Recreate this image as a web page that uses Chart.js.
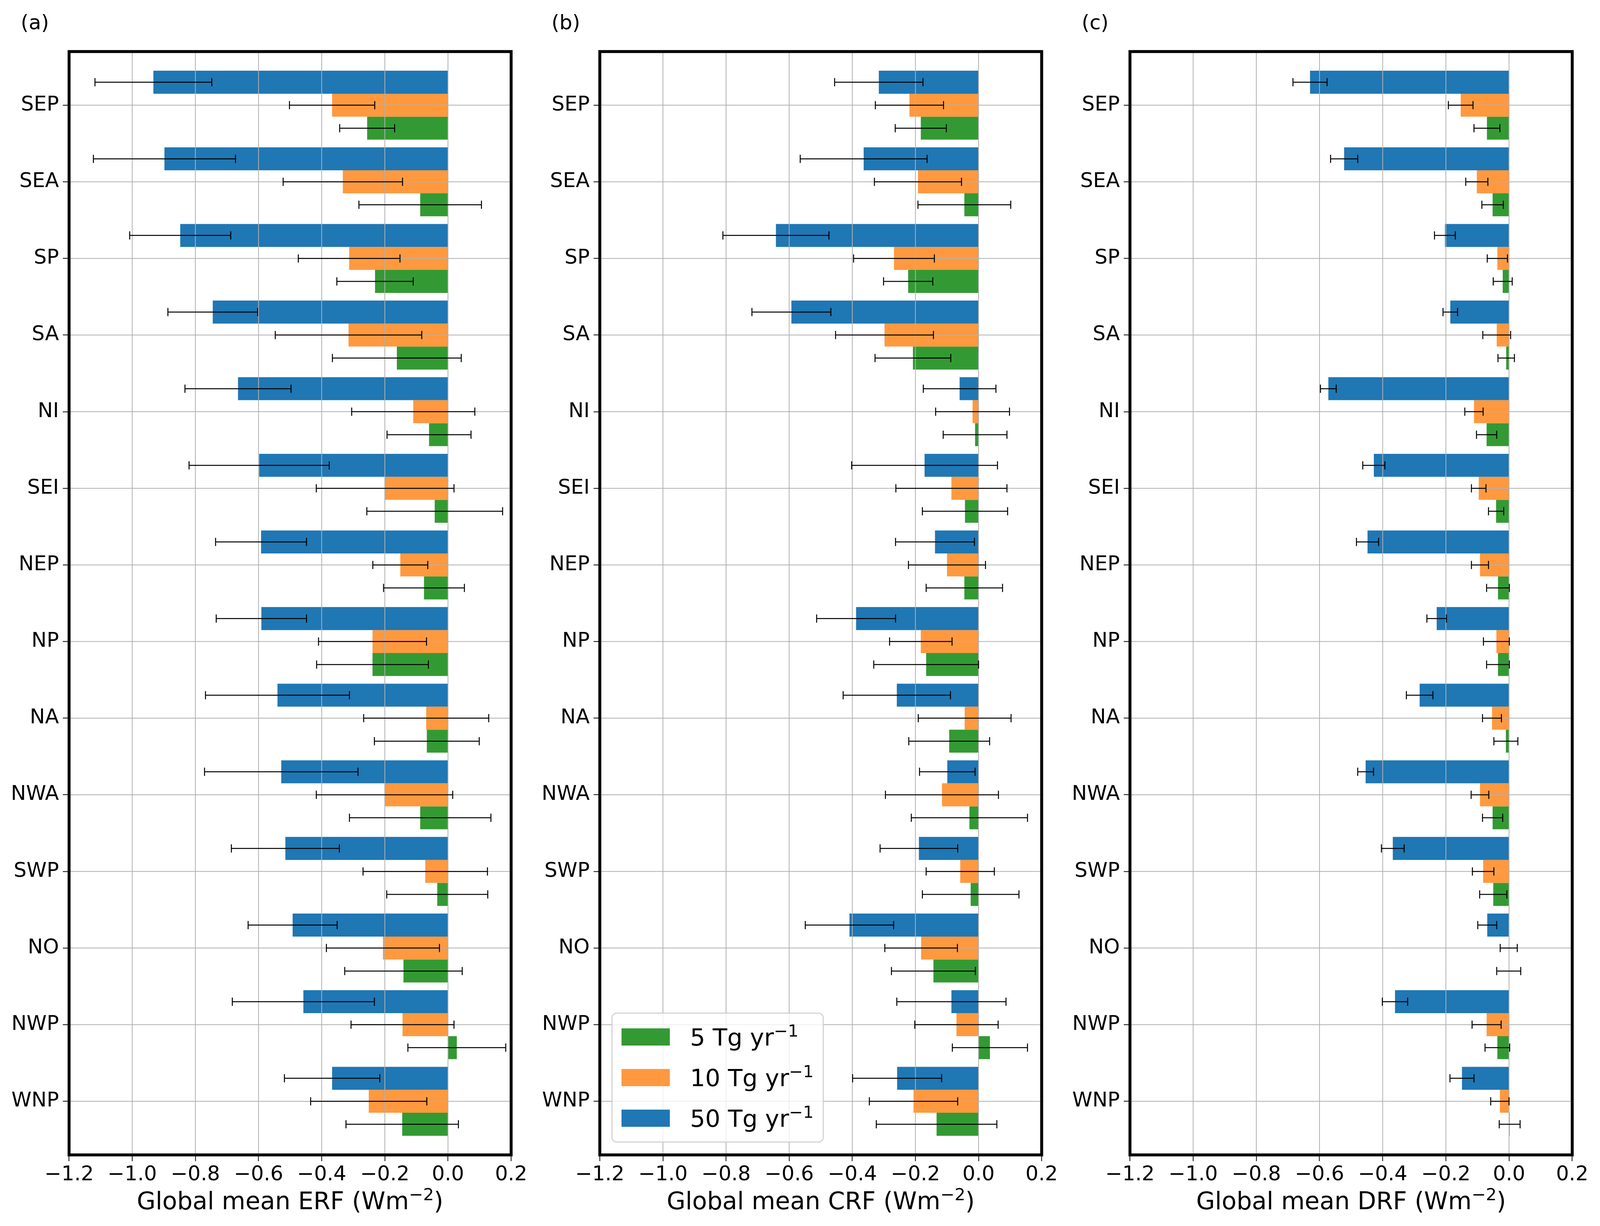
<!DOCTYPE html>
<html>
<head>
<meta charset="utf-8">
<script src="https://cdn.jsdelivr.net/npm/chart.js@4.4.1/dist/chart.umd.min.js"></script>
<style>
  html, body { margin: 0; padding: 0; background: #fff; overflow: hidden; }
  #page { position: relative; width: 100vw; height: 3139px; overflow: hidden; }
  .panel { position: absolute; top: 0; height: 3139px; }
  canvas { display: block; }
</style>
</head>
<body>
<div id="page"></div>
<script>
const regions = ['SEP', 'SEA', 'SP', 'SA', 'NI', 'SEI', 'NEP', 'NP', 'NA', 'NWA', 'SWP', 'NO', 'NWP', 'WNP'];
const xTicks = [-1.2, -1.0, -0.8, -0.6, -0.4, -0.2, 0.0, 0.2];
const rates = ['50', '10', '5'];
const colors = ['#1f77b4', '#ff993f', '#339a33'];

// ERF
const erf50 = [-0.933, -0.898, -0.848, -0.745, -0.665, -0.598, -0.592, -0.591, -0.540, -0.528, -0.515, -0.492, -0.458, -0.367];
const erf50Err = [0.185, 0.225, 0.160, 0.142, 0.168, 0.222, 0.144, 0.143, 0.228, 0.243, 0.171, 0.141, 0.225, 0.151];
const erf10 = [-0.367, -0.333, -0.313, -0.315, -0.110, -0.199, -0.151, -0.239, -0.069, -0.201, -0.072, -0.206, -0.144, -0.251];
const erf10Err = [0.135, 0.189, 0.161, 0.232, 0.195, 0.218, 0.087, 0.171, 0.198, 0.216, 0.197, 0.179, 0.163, 0.184];
const erf5 = [-0.256, -0.088, -0.231, -0.162, -0.060, -0.042, -0.076, -0.239, -0.067, -0.088, -0.034, -0.141, 0.028, -0.145];
const erf5Err = [0.087, 0.194, 0.121, 0.204, 0.133, 0.215, 0.128, 0.177, 0.166, 0.224, 0.160, 0.186, 0.155, 0.178];

// CRF
const crf50 = [-0.316, -0.364, -0.642, -0.593, -0.060, -0.171, -0.138, -0.388, -0.259, -0.099, -0.189, -0.409, -0.086, -0.258];
const crf50Err = [0.140, 0.201, 0.168, 0.125, 0.115, 0.231, 0.125, 0.125, 0.170, 0.088, 0.123, 0.140, 0.173, 0.141];
const crf10 = [-0.219, -0.192, -0.268, -0.298, -0.019, -0.086, -0.100, -0.183, -0.044, -0.116, -0.058, -0.182, -0.070, -0.206];
const crf10Err = [0.108, 0.138, 0.128, 0.155, 0.117, 0.176, 0.122, 0.099, 0.147, 0.179, 0.108, 0.115, 0.132, 0.140];
const crf5 = [-0.183, -0.045, -0.223, -0.208, -0.011, -0.043, -0.045, -0.166, -0.093, -0.029, -0.025, -0.143, 0.036, -0.133];
const crf5Err = [0.081, 0.147, 0.078, 0.120, 0.101, 0.135, 0.121, 0.166, 0.128, 0.184, 0.153, 0.133, 0.119, 0.191];

// DRF
const drf50 = [-0.630, -0.522, -0.203, -0.186, -0.572, -0.428, -0.448, -0.229, -0.283, -0.454, -0.368, -0.069, -0.361, -0.149];
const drf50Err = [0.054, 0.043, 0.033, 0.023, 0.025, 0.035, 0.035, 0.031, 0.042, 0.025, 0.036, 0.030, 0.040, 0.038];
const drf10 = [-0.153, -0.102, -0.037, -0.039, -0.111, -0.096, -0.092, -0.040, -0.054, -0.092, -0.082, -0.001, -0.071, -0.029];
const drf10Err = [0.039, 0.035, 0.032, 0.044, 0.029, 0.023, 0.027, 0.041, 0.030, 0.028, 0.034, 0.027, 0.046, 0.029];
const drf5 = [-0.070, -0.052, -0.020, -0.009, -0.071, -0.041, -0.035, -0.035, -0.010, -0.052, -0.050, -0.001, -0.037, 0.002];
const drf5Err = [0.041, 0.034, 0.030, 0.026, 0.032, 0.024, 0.036, 0.036, 0.038, 0.032, 0.043, 0.038, 0.039, 0.033];

const FONT = '"DejaVu Sans", sans-serif';
const PLOT_TOP = 132;
const PLOT_BOTTOM = 2957;
const PAGE_H = 3139;

// the figure was laid out 4204 px wide; squeeze horizontally if the window is narrower
const SX = Math.min(1, window.innerWidth / 4204);
const cuts = [0, 1400, 2800, 4204].map(v => Math.round(v * SX));
const plotLeft = [181.5, 1576, 2969];
const plotRight = [1343, 2737, 4131];

// text with a raised, smaller piece, e.g. Wm^-2
function drawParts(ctx, parts, x, y, size, align) {
    const supSize = size * 0.7;
    let total = 0;
    for (const [t, sup] of parts) {
        ctx.font = `${sup ? supSize : size}px ${FONT}`;
        total += ctx.measureText(t).width;
    }
    let cx = align === 'center' ? x - total / 2 : x;
    ctx.textAlign = 'left';
    ctx.textBaseline = 'alphabetic';
    for (const [t, sup] of parts) {
        ctx.font = `${sup ? supSize : size}px ${FONT}`;
        ctx.fillText(t, cx, sup ? y - size * 0.37 : y);
        cx += ctx.measureText(t).width;
    }
}

const panelPlugin = {
    id: 'panelDecor',
    afterDatasetsDraw(chart) {
        const opts = chart.options.plugins.panelDecor;
        const {ctx, chartArea, scales} = chart;
        const {top, bottom, left, right} = chartArea;
        const xs = scales.x, ys = scales.y;
        ctx.save();

        // grid on top of the bars, like the original
        ctx.strokeStyle = '#b0b0b0';
        ctx.lineWidth = 2;
        ctx.beginPath();
        for (const t of xs.ticks) {
            const px = xs.getPixelForValue(t.value);
            ctx.moveTo(px, top);
            ctx.lineTo(px, bottom);
        }
        for (const t of ys.ticks) {
            const py = ys.getPixelForValue(t.value);
            ctx.moveTo(left, py);
            ctx.lineTo(right, py);
        }
        ctx.stroke();

        // error bars
        ctx.strokeStyle = '#000';
        ctx.lineWidth = 2.5;
        const cap = 10.5;
        chart.data.datasets.forEach((ds, di) => {
            const meta = chart.getDatasetMeta(di);
            meta.data.forEach((bar, i) => {
                const v = ds.data[i].x, e = ds.errors[i];
                const x0 = xs.getPixelForValue(v - e);
                const x1 = xs.getPixelForValue(v + e);
                const y = bar.y;
                ctx.beginPath();
                ctx.moveTo(x0, y); ctx.lineTo(x1, y);
                ctx.moveTo(x0, y - cap); ctx.lineTo(x0, y + cap);
                ctx.moveTo(x1, y - cap); ctx.lineTo(x1, y + cap);
                ctx.stroke();
            });
        });

        // frame
        ctx.lineWidth = 7.5;
        ctx.strokeRect(left, top, right - left, bottom - top);

        // legend (panel b only)
        if (opts.legend) {
            const bx = left + 32 * SX, by = 2594, bw = 555 * SX, bh = 330;
            ctx.beginPath();
            ctx.roundRect(bx, by, bw, bh, 12);
            ctx.fillStyle = 'rgba(255,255,255,0.8)';
            ctx.fill();
            ctx.strokeStyle = '#cccccc';
            ctx.lineWidth = 2.5;
            ctx.stroke();
            const items = chart.data.datasets.slice().reverse();
            items.forEach((ds, k) => {
                const cy = 2655 + k * 104;
                ctx.fillStyle = ds.backgroundColor;
                ctx.fillRect(bx + 25 * SX, cy - 22, 127 * SX, 44);
                ctx.fillStyle = '#000';
                drawParts(ctx, [[ds.label, false], ['−1', true]], bx + 205 * SX, cy + 22, 61, 'left');
            });
        }

        // panel tag and x label
        ctx.fillStyle = '#000';
        ctx.font = `52px ${FONT}`;
        ctx.textAlign = 'left';
        ctx.textBaseline = 'alphabetic';
        ctx.fillText(opts.tag, left - 127 * SX, 75);
        drawParts(ctx, [[opts.xlabel, false], ['−2', true], [')', false]],
            (left + right) / 2, 3096, 62, 'center');
        ctx.restore();
    }
};

function makePanel(k, vals, errs, tag, xlabel, legend) {
    const div = document.createElement('div');
    div.className = 'panel';
    const width = cuts[k + 1] - cuts[k];
    div.style.left = cuts[k] + 'px';
    div.style.width = width + 'px';
    const canvas = document.createElement('canvas');
    div.appendChild(canvas);
    document.getElementById('page').appendChild(div);

    const leftEdge = plotLeft[k] * SX - cuts[k];
    const rightEdge = plotRight[k] * SX - cuts[k];

    const datasets = rates.map((r, j) => ({
        label: `${r} Tg yr`,
        data: vals[j].map((v, i) => ({x: v, y: i})),
        errors: errs[j],
        backgroundColor: colors[j],
        borderWidth: 0,
        categoryPercentage: 0.9,
        barPercentage: 1.0,
    }));
    return new Chart(canvas, {
        type: 'bar',
        data: {datasets},
        options: {
            indexAxis: 'y',
            animation: false,
            responsive: true,
            maintainAspectRatio: false,
            devicePixelRatio: 1,
            layout: {padding: {top: PLOT_TOP, left: 0, right: width - rightEdge, bottom: 0}},
            scales: {
                x: {
                    type: 'linear',
                    min: -1.2,
                    max: 0.2,
                    offset: false,
                    afterBuildTicks: (s) => { s.ticks = xTicks.map(v => ({value: v})); },
                    afterFit: (s) => { s.height = PAGE_H - PLOT_BOTTOM; },
                    grid: {drawOnChartArea: false, offset: false, tickLength: 16, tickWidth: 2, tickColor: '#000'},
                    border: {display: false},
                    ticks: {
                        font: {family: FONT, size: 52},
                        color: '#000',
                        padding: 4,
                        maxRotation: 0,
                        callback: (v) => {
                            const r = Math.round(v * 10) / 10;
                            return (r < 0 ? '−' : '') + Math.abs(r).toFixed(1);
                        }
                    }
                },
                y: {
                    type: 'linear',
                    min: -0.7,
                    max: 13.7,
                    reverse: true,
                    offset: false,
                    afterBuildTicks: (s) => { s.ticks = regions.map((_, i) => ({value: i})); },
                    afterFit: (s) => { s.width = leftEdge; },
                    grid: {drawOnChartArea: false, offset: false, tickLength: 16, tickWidth: 2, tickColor: '#000'},
                    border: {display: false},
                    ticks: {
                        font: {family: FONT, size: 52},
                        color: '#000',
                        padding: 10,
                        autoSkip: false,
                        callback: (v) => regions[v]
                    }
                }
            },
            plugins: {
                legend: {display: false},
                tooltip: {enabled: false},
                panelDecor: {tag, xlabel, legend}
            }
        },
        plugins: [panelPlugin]
    });
}

makePanel(0, [erf50, erf10, erf5], [erf50Err, erf10Err, erf5Err], '(a)', 'Global mean ERF (Wm', false);
makePanel(1, [crf50, crf10, crf5], [crf50Err, crf10Err, crf5Err], '(b)', 'Global mean CRF (Wm', true);
makePanel(2, [drf50, drf10, drf5], [drf50Err, drf10Err, drf5Err], '(c)', 'Global mean DRF (Wm', false);
</script>
</body>
</html>
